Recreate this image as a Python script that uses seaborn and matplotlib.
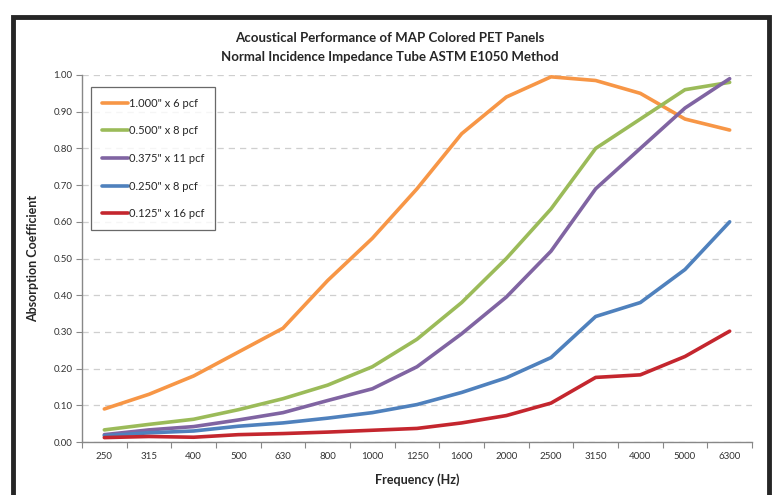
import pandas as pd
import numpy as np
import seaborn as sns
import matplotlib.pyplot as plt
from matplotlib.patches import Rectangle
from matplotlib.ticker import FixedLocator, NullFormatter

# frequencias (Hz)
freqs = ['250', '315', '400', '500', '630', '800', '1000', '1250',
         '1600', '2000', '2500', '3150', '4000', '5000', '6300']

# coeficientes
p1000_6 = [0.09, 0.13, 0.18, 0.245, 0.31, 0.44, 0.555, 0.69, 0.84, 0.94, 0.995, 0.985, 0.95, 0.88, 0.85]
p0500_8 = [0.033, 0.048, 0.062, 0.088, 0.118, 0.155, 0.205, 0.28, 0.38, 0.50, 0.635, 0.80, 0.88, 0.96, 0.98]
p0375_11 = [0.02, 0.033, 0.042, 0.06, 0.08, 0.113, 0.145, 0.205, 0.295, 0.395, 0.52, 0.69, 0.80, 0.91, 0.99]
p0250_8 = [0.017, 0.025, 0.03, 0.043, 0.052, 0.065, 0.08, 0.102, 0.135, 0.175, 0.23, 0.342, 0.38, 0.47, 0.60]
p0125_16 = [0.012, 0.015, 0.013, 0.02, 0.023, 0.027, 0.032, 0.037, 0.052, 0.072, 0.106, 0.176, 0.183, 0.233, 0.302]

nomes = ['1.000" x 6 pcf', '0.500" x 8 pcf', '0.375" x 11 pcf', '0.250" x 8 pcf', '0.125" x 16 pcf']
cores = ['#F79646', '#9BBB59', '#8064A2', '#4F81BD', '#C4262E']

base = pd.DataFrame({
    'freq': freqs * 5,
    'coef': p1000_6 + p0500_8 + p0375_11 + p0250_8 + p0125_16,
    'painel': [n for n in nomes for _ in freqs],
})

sns.set_style('white')
plt.rcParams['font.family'] = ['Lato', 'DejaVu Sans']

fig = plt.figure(figsize=(7.74, 4.95), dpi=100)
ax = fig.add_axes([82 / 774, 1 - 442 / 495, 670 / 774, 367 / 495])

# moldura preta do grafico
fig.patches.append(Rectangle((13 / 774, -0.05), 756 / 774, 1.05 - 17 / 495,
                             transform=fig.transFigure, fill=False,
                             edgecolor='#262626', linewidth=3.5, zorder=10))

sns.lineplot(data=base, x='freq', y='coef', hue='painel', hue_order=nomes,
             palette=cores, linewidth=2.6, sort=False, ax=ax, zorder=3)

ax.set_xlim(-0.5, 14.5)
ax.set_ylim(0, 1.0)
ax.set_yticks(np.arange(0, 1.01, 0.1))
ax.set_yticklabels(['%.2f' % v for v in np.arange(0, 1.01, 0.1)], fontsize=7, color='#333333')
ax.yaxis.grid(True, linestyle=(0, (5, 4)), color='#cfcfcf', linewidth=0.9)
ax.set_axisbelow(True)

# rotulos no centro, marcas nas divisas
ax.xaxis.set_major_locator(FixedLocator(np.arange(-0.5, 15, 1)))
ax.xaxis.set_major_formatter(NullFormatter())
ax.xaxis.set_minor_locator(FixedLocator(np.arange(15)))
ax.set_xticklabels(freqs, minor=True, fontsize=7, color='#333333')
ax.tick_params(axis='x', which='major', length=4, color='#888888', direction='out', bottom=True)
ax.tick_params(axis='x', which='minor', length=0, pad=7)
ax.tick_params(axis='y', length=4, color='#888888', direction='out', left=True, pad=3)

for lado in ['top', 'right']:
    ax.spines[lado].set_visible(False)
for lado in ['left', 'bottom']:
    ax.spines[lado].set_color('#888888')
    ax.spines[lado].set_linewidth(1.0)

ax.set_xlabel('Frequency (Hz)', fontsize=9, fontweight='bold', labelpad=9)
ax.set_ylabel('Absorption Coefficient', fontsize=9, fontweight='bold', labelpad=10)

fig.text(0.504, 1 - 38 / 495, 'Acoustical Performance of MAP Colored PET Panels',
         ha='center', va='center', fontsize=9.5, fontweight='bold')
fig.text(0.504, 1 - 57 / 495, 'Normal Incidence Impedance Tube ASTM E1050 Method',
         ha='center', va='center', fontsize=9.5, fontweight='bold')

leg = ax.legend(loc='upper left', bbox_to_anchor=(9 / 670, 1 - 12 / 367),
                fontsize=8, frameon=True, fancybox=False, edgecolor='#444444',
                handlelength=2.4, handletextpad=0.1, labelspacing=1.5,
                borderpad=0.95, borderaxespad=0)
leg.get_frame().set_linewidth(0.9)
for linha in leg.get_lines():
    linha.set_linewidth(2.6)

fig.savefig('out.png', dpi=100)
